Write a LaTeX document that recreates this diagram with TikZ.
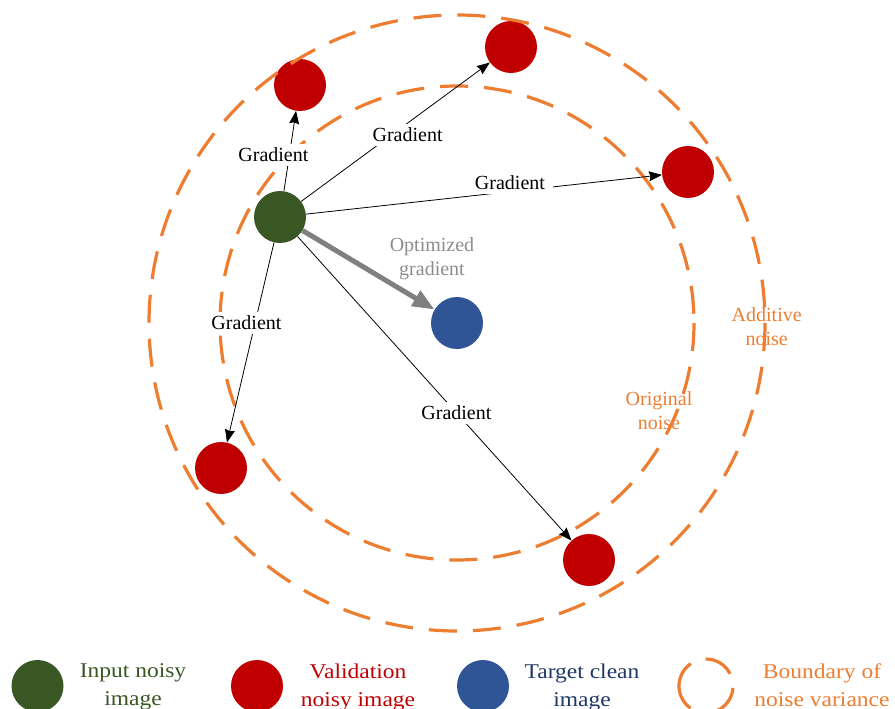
\documentclass[tikz,border=0pt]{standalone}
\usepackage{fontspec}
\setmainfont{Liberation Serif}
\newfontfamily\legendfont[FakeStretch=1.12]{Liberation Serif}
\usetikzlibrary{arrows.meta}

\definecolor{nodegreen}{RGB}{56,87,35}
\definecolor{nodered}{RGB}{192,0,0}
\definecolor{nodeblue}{RGB}{47,85,151}
\definecolor{noiseorange}{RGB}{237,125,49}
\definecolor{optgray}{RGB}{128,128,128}
\definecolor{optgraytext}{RGB}{140,140,140}
\definecolor{navytext}{RGB}{31,56,100}

\begin{document}
\begin{tikzpicture}[x=1pt,y=-1pt,
  blob/.style={circle, minimum size=52pt, inner sep=0pt, draw=none},
  reddot/.style={blob, fill=nodered},
  noiseband/.style={draw=noiseorange, line width=3.2pt, dash pattern=on 28pt off 16pt},
  bandstroke/.style={draw=noiseorange, line width=3.2pt},
  gradarrow/.style={draw=black, line width=0.8pt, -{Stealth[length=13pt,width=10pt,inset=1.5pt]}},
  gradlabel/.style={fill=white, inner xsep=8pt, inner ysep=4pt, font=\fontsize{20}{24}\selectfont},
  optarrow/.style={draw=optgray, line width=5pt, -{Triangle[length=22pt,width=17pt]}},
  annottext/.style={align=center, font=\fontsize{20}{24}\selectfont},
  legtext/.style={align=center, font=\legendfont\fontsize{21}{28}\selectfont},
]
\useasboundingbox (0,0) rectangle (895,709);

% images: noisy input, clean target, validation samples
\node[blob, fill=nodegreen] (src) at (280,217) {};
\node[blob, fill=nodeblue] (clean) at (457,323) {};
\node[reddot] (v1) at (300,85) {};
\node[reddot] (v2) at (511,47) {};
\node[reddot] (v3) at (688,172) {};
\node[reddot] (v4) at (221,468) {};
\node[reddot] (v5) at (589,560) {};

% noise boundaries around the clean image
\draw[noiseband] (clean.center) circle[radius=237];
\draw[noiseband] (clean.center) circle[radius=308];

% gradients towards the validation images
\draw[gradarrow] (src) -- node[gradlabel, pos=0.45, xshift=-16pt] {Gradient} (v1);
\draw[gradarrow] (src) -- node[gradlabel, pos=0.564, yshift=-12pt] {Gradient} (v2);
\draw[gradarrow] (src) -- node[gradlabel, pos=0.573, yshift=9pt] {Gradient} (v3);
\draw[gradarrow] (src) -- node[gradlabel, pos=0.403, xshift=-8.6pt] {Gradient} (v4);
\draw[gradarrow] (src) -- node[gradlabel, pos=0.58] {Gradient} (v5);
\draw[optarrow] (src) -- (clean);

% annotations
\node[annottext, text=optgraytext] (optlbl) at (432,258.7) {Optimized\\gradient};
\node[annottext, text=noiseorange] (origlbl) at (659,410.4) {Original\\noise};
\node[annottext, text=noiseorange] (addlbl) at (766.7,326.6) {Additive\\noise};

% legend
\node[blob, fill=nodegreen] (keysrc) at (37.5,686) {};
\node[legtext, text=nodegreen] (keysrctext) at (133,687.3) {Input noisy\\image};
\node[reddot] (keyval) at (257,686) {};
\node[legtext, text=nodered] (keyvaltext) at (358,687.3) {Validation\\noisy image};
\node[blob, fill=nodeblue] (keyclean) at (483,686) {};
\node[legtext, text=navytext] (keycleantext) at (582,687.3) {Target clean\\image};
\coordinate (keyband) at (706,686);
\draw[bandstroke] (keyband) ++(-27:27) arc[start angle=-27, end angle=-91, radius=27];
\draw[bandstroke] (keyband) ++(-124:27) arc[start angle=-124, end angle=-235, radius=27];
\draw[bandstroke] (keyband) ++(4:27) arc[start angle=4, end angle=70, radius=27];
\node[legtext, text=noiseorange] (keybandtext) at (822,684.8) {Boundary of\\noise variance};
\end{tikzpicture}
\end{document}
